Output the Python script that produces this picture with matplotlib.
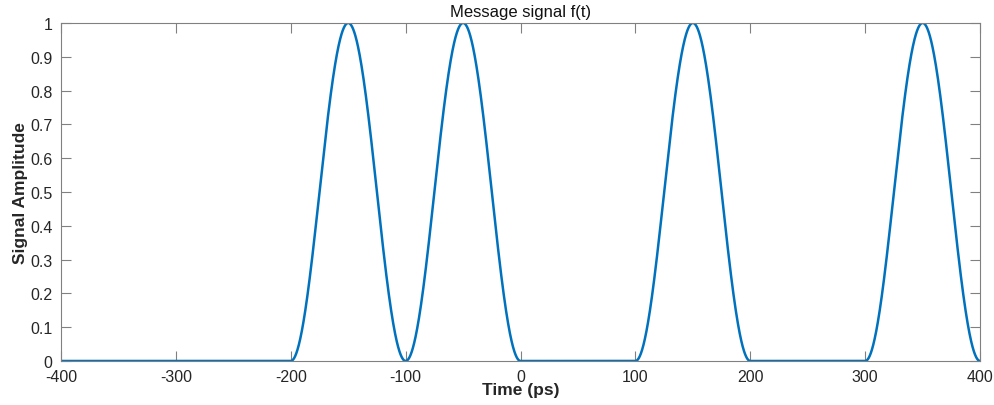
import numpy as np
import matplotlib
matplotlib.use("Agg")
import matplotlib.pyplot as plt

# Bit pattern, one bit per 100 ps slot from -400 ps to 400 ps
slot_starts_ps = [-400, -300, -200, -100, 0, 100, 200, 300]
bits = [0, 0, 1, 1, 0, 1, 0, 1]
slot_width_ps = 100

x_ticks = [-400, -300, -200, -100, 0, 100, 200, 300, 400]
y_ticks = [0, 0.1, 0.2, 0.3, 0.4, 0.5, 0.6, 0.7, 0.8, 0.9, 1]

# Raised-cosine pulse in each slot carrying a 1
t = np.linspace(-400, 400, 4001)
f = np.zeros_like(t)
for start, b in zip(slot_starts_ps, bits):
    if b:
        m = (t >= start) & (t <= start + slot_width_ps)
        f[m] = 0.5 * (1 - np.cos(2 * np.pi * (t[m] - start) / slot_width_ps))

plt.rcParams['font.family'] = ['Liberation Sans', 'DejaVu Sans']
fig = plt.figure(figsize=(9.95, 4.06), dpi=100)
ax = fig.add_axes([0.0613, 0.1084, 0.9237, 0.8326])
ax.plot(t, f, color='#0072BD', linewidth=1.8)

ax.set_xlim(-400, 400)
ax.set_ylim(0, 1)
ax.set_xticks(x_ticks)
ax.set_xticklabels([str(v) for v in x_ticks])
ax.set_yticks(y_ticks)
ax.set_yticklabels([f"{v:g}" for v in y_ticks])

axis_color = '#808080'
for s in ax.spines.values():
    s.set_color(axis_color)
    s.set_linewidth(0.8)
ax.tick_params(direction='in', length=7, width=0.8, color=axis_color,
               labelcolor='#262626', labelsize=11.5, top=True, right=True)
ax.tick_params(axis='x', pad=5.5)
ax.tick_params(axis='y', pad=6)

ax.set_xlabel('Time (ps)', fontsize=12.5, fontweight='bold', color='#262626', labelpad=-1)
ax.set_ylabel('Signal Amplitude', fontsize=12.5, fontweight='bold', color='#262626', labelpad=2)
ax.set_title('Message signal f(t)', fontsize=12, color='#111111', pad=5)

fig.savefig('out.png', dpi=100)
